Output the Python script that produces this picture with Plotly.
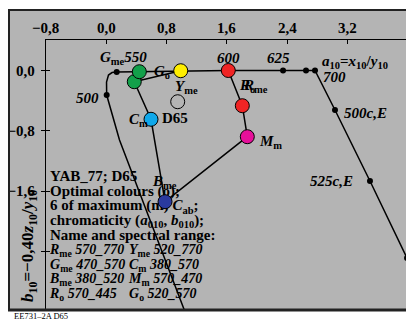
import plotly.graph_objects as go

BG = "#b4b4b4"
FONT = "Liberation Serif"
FS = 15

# ---- data (a10 = x10/y10, b10 = -0.40 z10/y10) ----
locus_a = [1.120, 0.735, 0.283, 0.175, 0.005, 0.003, 0.029, 0.076, 0.138, 0.438, 0.987,
           1.618, 2.344, 2.649, 2.768, 3.033, 3.497, 3.988, 4.447]
locus_b = [-3.401, -2.381, -1.187, -0.922, -0.326, -0.153, -0.060, -0.027, -0.020, -0.016, -0.003,
           0.0, 0.0, 0.0, 0.0, -0.524, -1.466, -2.487, -3.442]
dot_a = [0.005, 0.138, 2.344, 2.649, 2.768, 3.033, 3.497, 3.988]
dot_b = [-0.326, -0.020, 0.0, 0.0, 0.0, -0.524, -1.466, -2.487]

# optimal colour hexagon: Ye -> Go -> Cm -> Bme -> Mm -> Ro -> Rme
hex_names = ["Yme", "Go", "Cm", "Bme", "Mm", "Ro", "Rme"]
hex_a = [0.987, 0.371, 0.593, 0.779, 1.870, 1.804, 1.618]
hex_b = [-0.003, -0.149, -0.647, -1.740, -0.878, -0.467, 0.0]

circle_names = ["Go", "Gme", "Yme", "Rme", "Ro", "Mm", "Cm", "Bme", "D65"]
circle_a = [0.371, 0.438, 0.987, 1.618, 1.804, 1.870, 0.593, 0.779, 0.947]
circle_b = [-0.149, -0.016, -0.003, 0.0, -0.467, -0.878, -0.647, -1.740, -0.414]
circle_col = ["#12a04a", "#12a04a", "#ffee00", "#f02424", "#f02424", "#e6109a",
              "#10a8ea", "#2a3a9e", BG]

x_ticks = [-0.8, 0.0, 0.8, 1.6, 2.4, 3.2]
x_ticktext = ["−0,8", "0,0", "0,8", "1,6", "2,4", "3,2"]
y_ticks = [0.0, -0.8, -1.6, -2.4]
y_ticktext = ["0,0", "−0,8", "−1,6", ""]

block_rows = [
    "YAB_77; D65",
    "Optimal colours (o);",
    "6 of maximum (m) <i>C</i><sub>ab</sub>;",
    "chromaticity (<i>a</i><sub>010</sub>, <i>b</i><sub>010</sub>);",
    "Name and spectral range:",
]
range_col1 = [
    "<i>R</i><sub>me</sub> <i>570_770</i>",
    "<i>G</i><sub>me</sub> <i>470_570</i>",
    "<i>B</i><sub>me</sub> <i>380_520</i>",
    "<i>R</i><sub>o</sub> <i>570_445</i>",
]
range_col2 = [
    "<i>Y</i><sub>me</sub> <i>520_770</i>",
    "<i>C</i><sub>m</sub> <i>380_570</i>",
    "<i>M</i><sub>m</sub> <i>570_470</i>",
    "<i>G</i><sub>o</sub> <i>520_570</i>",
]

# ---- geometry (reference-page pixels); the page body adds an 8 px margin ----
PAGE_OFF = 8
W, H = 414, 323
PL, PT, PR, PB = 46, 40, 414, 310          # plot area edges on the page
PX_PER_UNIT = 75.4
X0_PX, Y0_PX = 106.3, 70.5


def pa(px):
    return (px - X0_PX) / PX_PER_UNIT


def pb(py):
    return -(py - Y0_PX) / PX_PER_UNIT


def ppx(px):
    return (px - PL) / (PR - PL)


def ppy(py):
    return (PB - py) / (PB - PT)


xr = [pa(PL), pa(PR)]
yr = [pb(PB), pb(PT)]


def a_to_paper(a):
    return (a - xr[0]) / (xr[1] - xr[0])


fig = go.Figure()

tf = dict(family=FONT, size=FS, color="black", weight="bold")
tf14 = dict(family=FONT, size=14, color="black", weight="bold")

# text block (as traces so lines/circles draw over it)
row_y0, row_dy = 177.5, 14.6
fig.add_trace(go.Scatter(
    x=[pa(50)] * len(block_rows),
    y=[pb(row_y0 + i * row_dy) for i in range(len(block_rows))],
    text=block_rows, mode="text", textposition="middle right", textfont=tf,
    cliponaxis=False, hoverinfo="skip", showlegend=False))
fig.add_trace(go.Scatter(
    x=[pa(50)] * len(range_col1),
    y=[pb(row_y0 + (i + 5) * row_dy) for i in range(len(range_col1))],
    text=range_col1, mode="text", textposition="middle right", textfont=tf14,
    cliponaxis=False, hoverinfo="skip", showlegend=False))
fig.add_trace(go.Scatter(
    x=[pa(129)] * len(range_col2),
    y=[pb(row_y0 + (i + 5) * row_dy) for i in range(len(range_col2))],
    text=range_col2, mode="text", textposition="middle right", textfont=tf14,
    cliponaxis=False, hoverinfo="skip", showlegend=False))

fig.add_trace(go.Scatter(x=locus_a, y=locus_b, mode="lines",
                         line=dict(color="black", width=1.5), hoverinfo="skip", showlegend=False))
fig.add_trace(go.Scatter(x=hex_a, y=hex_b, mode="lines",
                         line=dict(color="black", width=1.5), hoverinfo="skip", showlegend=False))
fig.add_trace(go.Scatter(x=dot_a, y=dot_b, mode="markers",
                         marker=dict(color="black", size=6), hoverinfo="skip", showlegend=False))
fig.add_trace(go.Scatter(x=circle_a, y=circle_b, mode="markers", text=circle_names,
                         marker=dict(color=circle_col, size=14, line=dict(color="black", width=1)),
                         hoverinfo="text", showlegend=False))

labels = [
    (0.223, 0.166, "<i>G</i><sub>me</sub><i>550</i>", "center"),
    (0.600, -0.020, "<i>G</i><sub>o</sub>", "left"),
    (1.070, -0.219, "<i>Y</i><sub>me</sub>", "center"),
    (0.911, -0.630, "D65", "center"),
    (0.585, -0.657, "<i>C</i><sub>m</sub>", "right"),
    (-0.243, -0.365, "<i>500</i>", "center"),
    (1.627, 0.166, "<i>600</i>", "center"),
    (2.290, 0.166, "<i>625</i>", "center"),
    (3.020, -0.086, "<i>700</i>", "center"),
    (2.840, 0.113, "<i>a</i><sub>10</sub>=<i>x</i><sub>10</sub>/<i>y</i><sub>10</sub>", "left"),
    (1.733, -0.206, "<i>R</i><sub>o</sub>", "left"),
    (1.786, -0.206, "<i>R</i><sub>me</sub>", "left"),
    (1.999, -0.948, "<i>M</i><sub>m</sub>", "left"),
    (3.126, -0.564, "<i>500c,E</i>", "left"),
    (2.675, -1.466, "<i>525c,E</i>", "left"),
    (0.578, -1.479, "<i>B</i><sub>me</sub>", "left"),
]
for a, b, txt, anc in labels:
    fig.add_annotation(x=a, y=b, xref="x", yref="y", text=txt, showarrow=False,
                       xanchor=anc, yanchor="middle", font=tf)

# top-axis tick labels
for v, t in zip(x_ticks, x_ticktext):
    fig.add_annotation(x=a_to_paper(v), y=ppy(28), xref="paper", yref="paper", text=t,
                       showarrow=False, xanchor="center", yanchor="middle", font=tf)

# y axis title
fig.add_annotation(x=ppx(29), y=ppy(246), xref="paper", yref="paper",
                   text="<i>b</i><sub>10</sub>=−0,40<i>z</i><sub>10</sub>/<i>y</i><sub>10</sub>",
                   textangle=-90, showarrow=False, xanchor="center", yanchor="middle",
                   font=dict(family=FONT, size=17, color="black", weight="bold"))
# footer
fig.add_annotation(x=ppx(12), y=ppy(316), xref="paper", yref="paper",
                   text="EE731–2A D65", showarrow=False, xanchor="left", yanchor="middle",
                   font=dict(family=FONT, size=8.5, color="black"))

FR_L, FR_T, FR_B = 9, 10, 310
shapes = [
    dict(type="rect", xref="paper", yref="paper", x0=ppx(PAGE_OFF), x1=ppx(W + 2),
         y0=ppy(FR_B), y1=ppy(FR_T), fillcolor=BG, line=dict(width=0), layer="below"),
    dict(type="line", xref="paper", yref="paper", x0=ppx(PAGE_OFF), x1=ppx(W + 2),
         y0=ppy(FR_T), y1=ppy(FR_T), line=dict(color="#222222", width=2)),
    dict(type="line", xref="paper", yref="paper", x0=ppx(FR_L), x1=ppx(FR_L),
         y0=ppy(FR_B), y1=ppy(FR_T), line=dict(color="#222222", width=2)),
    dict(type="line", xref="paper", yref="paper", x0=ppx(PAGE_OFF), x1=ppx(W + 2),
         y0=ppy(FR_B), y1=ppy(FR_B), line=dict(color="#222222", width=3)),
]

fig.update_layout(
    width=W - PAGE_OFF, height=H - PAGE_OFF,
    margin=dict(l=PL - PAGE_OFF, r=W - PR, t=PT - PAGE_OFF, b=H - PB, pad=0),
    paper_bgcolor="white", plot_bgcolor=BG, shapes=shapes,
    xaxis=dict(range=xr, side="top", showgrid=False, zeroline=False, showline=True,
               linecolor="black", linewidth=1.3, ticks="inside", ticklen=4, tickwidth=1.3,
               tickcolor="black", tickvals=x_ticks, showticklabels=False),
    yaxis=dict(range=yr, showgrid=False, zeroline=False, showline=True,
               linecolor="black", linewidth=1.3, ticks="outside", ticklen=4, tickwidth=1.3,
               tickcolor="black", tickvals=y_ticks, ticktext=y_ticktext, tickfont=tf,
               ticklabelstandoff=3),
    yaxis2=dict(range=yr, overlaying="y", side="left", showgrid=False, zeroline=False,
                showline=False, ticks="inside", ticklen=4, tickwidth=1.3, tickcolor="black",
                tickvals=y_ticks, showticklabels=False),
)
fig.add_trace(go.Scatter(x=[None], y=[None], yaxis="y2", showlegend=False, hoverinfo="skip"))

fig.write_html("out.html")
